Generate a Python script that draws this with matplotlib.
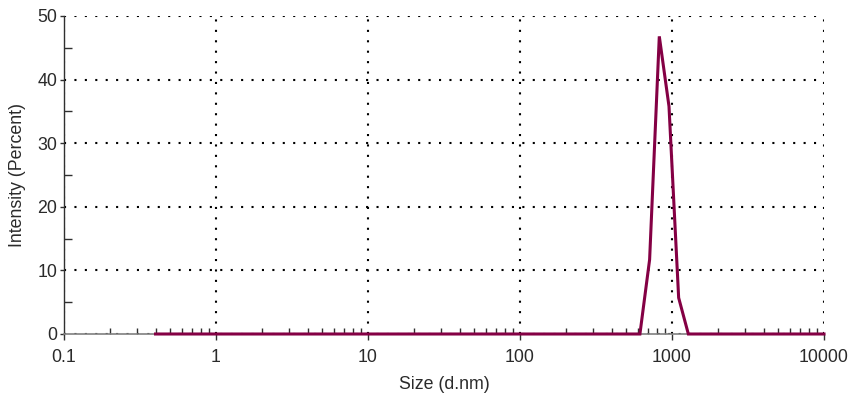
import matplotlib
matplotlib.use("Agg")
import matplotlib.pyplot as plt
from matplotlib.ticker import FixedLocator, FixedFormatter, LogLocator, NullFormatter, MultipleLocator

plt.rcParams['font.family'] = ['Liberation Sans', 'DejaVu Sans']

# size distribution by intensity
sizes = [0.4, 0.4632, 1.0, 10.0, 100.0, 531.2, 615.1, 712.4, 825.0, 955.4, 1106.0, 1281.0, 1484.0, 5000.0, 10000.0]
intensity = [0, 0, 0, 0, 0, 0, 0, 11.7, 46.8, 35.8, 5.7, 0, 0, 0, 0]

x_ticks = [0.1, 1, 10, 100, 1000, 10000]
x_tick_labels = ['0.1', '1', '10', '100', '1000', '10000']
y_ticks = [0, 10, 20, 30, 40, 50]

line_color = '#840044'
text_color = '#2a2a2a'

fig = plt.figure(figsize=(8.53, 4.0), dpi=100)
ax = fig.add_axes([64 / 853, 66 / 400, 760 / 853, 318 / 400])

ax.plot(sizes, intensity, color=line_color, linewidth=2.2, solid_joinstyle='miter',
        clip_on=False, zorder=5)

ax.set_xscale('log')
ax.set_xlim(0.1, 10000)
ax.set_ylim(0, 50)

ax.xaxis.set_major_locator(FixedLocator(x_ticks))
ax.xaxis.set_major_formatter(FixedFormatter(x_tick_labels))
ax.xaxis.set_minor_locator(LogLocator(base=10, subs=range(2, 10), numticks=20))
ax.xaxis.set_minor_formatter(NullFormatter())
ax.yaxis.set_major_locator(FixedLocator(y_ticks))
ax.yaxis.set_minor_locator(MultipleLocator(5))

ax.grid(True, which='major', color='black', linestyle=(0, (1, 4)), linewidth=1.5)
ax.set_axisbelow(True)

for side in ('top', 'right'):
    ax.spines[side].set_visible(False)
ax.spines['left'].set_color('#303030')
ax.spines['bottom'].set_color('#808080')
ax.spines['left'].set_linewidth(1.0)
ax.spines['bottom'].set_linewidth(1.2)

ax.tick_params(axis='x', which='major', direction='out', length=4, width=1, color='#303030',
               labelsize=12.8, pad=7, labelcolor=text_color)
ax.tick_params(axis='x', which='minor', direction='in', length=4, width=1, color='#303030')
ax.tick_params(axis='y', which='major', direction='out', length=3, width=1, color='#303030',
               labelsize=12.8, pad=2, labelcolor=text_color)
ax.tick_params(axis='y', which='minor', direction='in', length=6, width=1, color='#303030')

ax.set_xlabel('Size (d.nm)', fontsize=12.8, color=text_color, labelpad=7)
ax.set_ylabel('Intensity (Percent)', fontsize=12.8, color=text_color, labelpad=8)

fig.savefig('out.png', dpi=100)
